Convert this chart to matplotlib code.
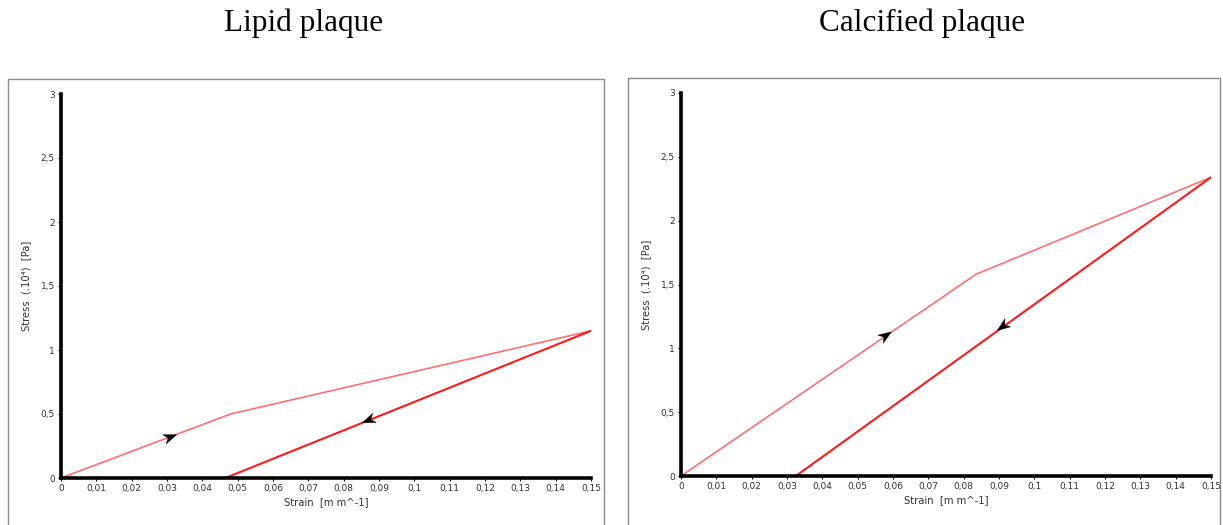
import numpy as np
import matplotlib
matplotlib.use("Agg")
import matplotlib.pyplot as plt
from matplotlib.patches import Rectangle, Polygon
from matplotlib.ticker import FuncFormatter

# ---- data ----
titles = ["Lipid plaque", "Calcified plaque"]
lipid_load_x = [0.0, 0.048, 0.15]
lipid_load_y = [0.0, 0.50, 1.15]
lipid_unload_x = [0.15, 0.0465]
lipid_unload_y = [1.15, 0.0]
lipid_arrow_load = (0.031, 0.32)
lipid_arrow_unload = (0.087, 0.45)

calc_load_x = [0.0, 0.0835, 0.15]
calc_load_y = [0.0, 1.58, 2.34]
calc_unload_x = [0.15, 0.0325]
calc_unload_y = [2.34, 0.0]
calc_arrow_load = (0.058, 1.10)
calc_arrow_unload = (0.091, 1.17)

x_ticks = [0, 0.01, 0.02, 0.03, 0.04, 0.05, 0.06, 0.07, 0.08, 0.09, 0.1, 0.11, 0.12, 0.13, 0.14, 0.15]
y_ticks = [0, 0.5, 1, 1.5, 2, 2.5, 3]
xlabel = "Strain  [m m^-1]"
ylabel = "Stress  (.10\u2074)  [Pa]"

W, H = 1223, 525
fig = plt.figure(figsize=(W / 100, H / 100), dpi=100)

def fmt(v, pos=None):
    s = ("%.2f" % v).rstrip("0").rstrip(".")
    return s.replace(".", ",")

def draw_arrow(ax, pt, a, b, size=13):
    """Draw a stealth arrowhead at data point pt, pointing from a to b (display direction)."""
    pa = ax.transData.transform(a)
    pb = ax.transData.transform(b)
    d = pb - pa
    d = d / np.hypot(*d)
    n = np.array([-d[1], d[0]])
    c = ax.transData.transform(pt)
    L = size
    tip = c + d * L * 0.5
    back = c - d * L * 0.5
    w1 = back + n * L * 0.38
    w2 = back - n * L * 0.38
    notch = c - d * L * 0.2
    verts_disp = np.array([tip, w1, notch, w2])
    verts = ax.transData.inverted().transform(verts_disp)
    ax.add_patch(Polygon(verts, closed=True, facecolor="black", edgecolor="black",
                         lw=0.3, zorder=5, clip_on=False))

panels = [
    dict(box=(8, 79, 604, 530), ax=(61, 591, 478, 94), title_x=304,
         lx=lipid_load_x, ly=lipid_load_y, ux=lipid_unload_x, uy=lipid_unload_y,
         al=lipid_arrow_load, au=lipid_arrow_unload),
    dict(box=(628, 78, 1220, 530), ax=(681, 1211, 476, 93), title_x=922,
         lx=calc_load_x, ly=calc_load_y, ux=calc_unload_x, uy=calc_unload_y,
         al=calc_arrow_load, au=calc_arrow_unload),
]

for i, p in enumerate(panels):
    bx0, by0, bx1, by1 = p["box"]
    fig.patches.append(Rectangle((bx0 / W, 1 - by1 / H), (bx1 - bx0) / W, (by1 - by0) / H,
                                 transform=fig.transFigure, fill=False,
                                 edgecolor="#8c8c8c", lw=1.0))
    fig.text(p["title_x"] / W, 1 - 23 / H, titles[i], ha="center", va="center",
             fontsize=22.5, family="Liberation Serif")
    x0, x1, yb, yt = p["ax"]
    ax = fig.add_axes([x0 / W, 1 - yb / H, (x1 - x0) / W, (yb - yt) / H])
    ax.set_xlim(0, 0.15)
    ax.set_ylim(0, 3)
    for sp in ["top", "right"]:
        ax.spines[sp].set_visible(False)
    for sp in ["left", "bottom"]:
        ax.spines[sp].set_linewidth(2.6)
        ax.spines[sp].set_color("black")
    ax.set_xticks(x_ticks)
    ax.set_yticks(y_ticks)
    ax.xaxis.set_major_formatter(FuncFormatter(fmt))
    ax.yaxis.set_major_formatter(FuncFormatter(fmt))
    ax.tick_params(axis="both", length=2.5, width=0.8, labelsize=6.5,
                   labelcolor="#333333", pad=2)
    ax.set_xlabel(xlabel, fontsize=7.2, color="#333333", labelpad=3)
    ax.set_ylabel(ylabel, fontsize=7.2, color="#333333", labelpad=7)

    ax.plot(p["lx"], p["ly"], color="#ff7070", lw=1.2, solid_capstyle="butt", clip_on=False)
    ax.plot(p["ux"], p["uy"], color="#ff1a1a", lw=1.5, solid_capstyle="butt", clip_on=False)

    draw_arrow(ax, p["al"], (p["lx"][0], p["ly"][0]), (p["lx"][1], p["ly"][1]))
    draw_arrow(ax, p["au"], (p["ux"][0], p["uy"][0]), (p["ux"][1], p["uy"][1]))

fig.savefig("out.png", dpi=100)
